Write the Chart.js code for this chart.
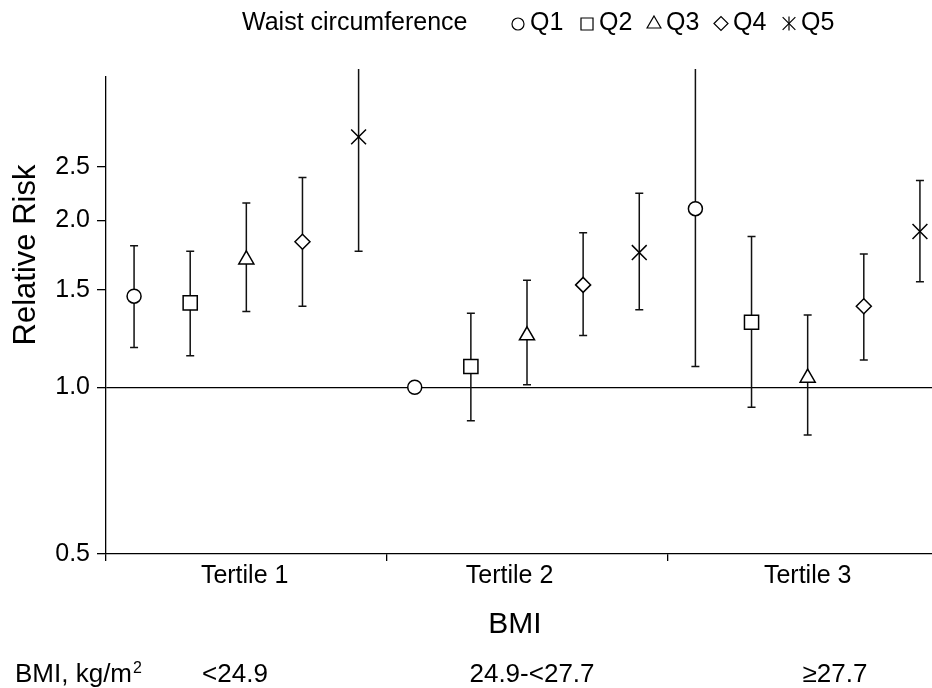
<!DOCTYPE html>
<html>
<head>
<meta charset="utf-8">
<title>Relative risk by BMI tertile and waist circumference</title>
<script src="https://cdn.jsdelivr.net/npm/chart.js@4.4.1/dist/chart.umd.min.js"></script>
<style>
  html, body { margin: 0; padding: 0; background: #fff; overflow: hidden; }
  canvas { display: block; }
</style>
</head>
<body>
<canvas id="rrChart" width="960" height="688"></canvas>
<script>
// BMI tertiles on the x axis, waist circumference quintiles inside each one
const tertiles = ['Tertile 1', 'Tertile 2', 'Tertile 3'];
const bmiRanges = ['<24.9', '24.9-<27.7', '\u226527.7'];
const quintiles = ['Q1', 'Q2', 'Q3', 'Q4', 'Q5'];

// relative risk per quintile, one value per tertile
const rrQ1 = [1.46, 1.00, 2.10];
const rrQ2 = [1.42, 1.09, 1.31];
const rrQ3 = [1.70, 1.24, 1.04];
const rrQ4 = [1.83, 1.53, 1.40];
const rrQ5 = [2.83, 1.75, 1.91];

// 95% CI (Q1 of tertile 2 is the reference group -> no interval)
const loQ1 = [1.18, null, 1.09];
const loQ2 = [1.14, 0.87, 0.92];
const loQ3 = [1.37, 1.01, 0.82];
const loQ4 = [1.40, 1.24, 1.12];
const loQ5 = [1.76, 1.38, 1.55];

const hiQ1 = [1.80, null, 4.03];
const hiQ2 = [1.76, 1.36, 1.87];
const hiQ3 = [2.15, 1.56, 1.35];
const hiQ4 = [2.39, 1.90, 1.74];
const hiQ5 = [4.54, 2.24, 2.36];

const yTicks = [0.5, 1.0, 1.5, 2.0, 2.5];

const rr = [rrQ1, rrQ2, rrQ3, rrQ4, rrQ5];
const lo = [loQ1, loQ2, loQ3, loQ4, loQ5];
const hi = [hiQ1, hiQ2, hiQ3, hiQ4, hiQ5];

// marker looks
const markers = ['circle', 'rect', 'triangle', 'rectRot', 'crossRot'];
const markerSize = [7, 10, 8.7, 7.5, 10.5];

const FONT = 'Liberation Sans, Arial, Helvetica, sans-serif';
const perGroup = quintiles.length;

const datasets = quintiles.map((q, qi) => ({
  label: q,
  data: tertiles.map((t, ti) => ({
    x: ti * perGroup + qi + 0.5,
    y: rr[qi][ti],
    lo: lo[qi][ti],
    hi: hi[qi][ti]
  })),
  pointStyle: markers[qi],
  pointRadius: markerSize[qi],
  pointHoverRadius: markerSize[qi],
  pointBackgroundColor: '#fff',
  pointBorderColor: '#000',
  pointBorderWidth: 1.5,
  showLine: false
}));

// vertical CI whiskers with small caps, drawn under the markers
const errorBars = {
  id: 'errorBars',
  beforeDatasetsDraw(chart) {
    const { ctx, chartArea, scales } = chart;
    const y = scales.y;
    ctx.save();
    ctx.beginPath();
    ctx.rect(chartArea.left, chartArea.top - 8, chartArea.right - chartArea.left, chartArea.bottom - chartArea.top + 8);
    ctx.clip();
    ctx.strokeStyle = '#111';
    ctx.lineWidth = 1.5;
    chart.data.datasets.forEach((ds, di) => {
      chart.getDatasetMeta(di).data.forEach((pt, i) => {
        const d = ds.data[i];
        if (d.lo == null || d.hi == null) return;
        const yl = y.getPixelForValue(d.lo);
        const yh = y.getPixelForValue(d.hi);
        ctx.beginPath();
        ctx.moveTo(pt.x, yl);
        ctx.lineTo(pt.x, yh);
        ctx.moveTo(pt.x - 4, yl);
        ctx.lineTo(pt.x + 4, yl);
        ctx.moveTo(pt.x - 4, yh);
        ctx.lineTo(pt.x + 4, yh);
        ctx.stroke();
      });
    });
    ctx.restore();
  }
};

// header key, axis titles and the BMI range row
const annotations = {
  id: 'annotations',
  afterDraw(chart) {
    const ctx = chart.ctx;
    ctx.save();
    ctx.fillStyle = '#000';
    ctx.textBaseline = 'alphabetic';

    // key across the top
    ctx.font = '25px ' + FONT;
    ctx.textAlign = 'left';
    ctx.fillText('Waist circumference', 242, 30);
    const keyX = [518, 587, 654, 721, 789];
    const keyR = [6, 8.5, 8, 7, 9];
    const keyY = [24, 24, 24, 23.5, 23.5];
    quintiles.forEach((q, qi) => {
      ctx.fillStyle = '#fff';
      ctx.strokeStyle = '#000';
      ctx.lineWidth = 1.2;
      Chart.helpers.drawPoint(ctx, { pointStyle: markers[qi], radius: keyR[qi], rotation: 0, borderWidth: 1.2 }, keyX[qi], keyY[qi]);
      if (markers[qi] === 'crossRot') {
        ctx.beginPath();
        ctx.moveTo(keyX[qi], keyY[qi] - 7);
        ctx.lineTo(keyX[qi], keyY[qi] + 7);
        ctx.stroke();
      }
      ctx.fillStyle = '#000';
      ctx.fillText(q, keyX[qi] + 12, 30);
    });

    // y title
    ctx.font = '31px ' + FONT;
    ctx.textAlign = 'center';
    ctx.save();
    ctx.translate(35, 255);
    ctx.rotate(-Math.PI / 2);
    ctx.fillText('Relative Risk', 0, 0);
    ctx.restore();

    // x title
    ctx.font = '30px ' + FONT;
    ctx.fillText('BMI', 515, 633);

    // BMI ranges row
    ctx.font = '26px ' + FONT;
    ctx.textAlign = 'left';
    ctx.fillText('BMI, kg/m', 15, 682);
    const w = ctx.measureText('BMI, kg/m').width;
    ctx.font = '16px ' + FONT;
    ctx.fillText('2', 15 + w + 1, 673);
    ctx.font = '26px ' + FONT;
    ctx.textAlign = 'center';
    const rangeX = [235, 532, 835];
    bmiRanges.forEach((r, i) => ctx.fillText(r, rangeX[i], 682));
    ctx.restore();
  }
};

// x ticks: group borders carry a tick mark, label ticks only carry text
const xBorders = [0, 5, 10, 15];
const xLabelAt = [2.47, 7.19, 12.5];
const isBorder = v => xBorders.includes(v);

new Chart(document.getElementById('rrChart'), {
  type: 'scatter',
  data: { datasets },
  plugins: [errorBars, annotations],
  options: {
    responsive: false,
    animation: false,
    devicePixelRatio: 1,
    layout: { padding: { top: 77, right: 9, left: 0, bottom: 0 } },
    plugins: {
      legend: { display: false },
      tooltip: { enabled: false }
    },
    scales: {
      x: {
        type: 'linear',
        min: 0,
        max: 15,
        afterFit: s => { s.height = 134; },
        afterBuildTicks: s => {
          s.ticks = [...xBorders, ...xLabelAt].sort((a, b) => a - b).map(v => ({ value: v }));
        },
        border: { color: '#000', width: 1.3 },
        grid: {
          drawOnChartArea: false,
          tickLength: 7,
          color: c => (c.tick && isBorder(c.tick.value)) ? '#000' : 'rgba(0,0,0,0)',
          tickColor: c => (c.tick && isBorder(c.tick.value)) ? '#000' : 'rgba(0,0,0,0)',
          lineWidth: 1.3
        },
        ticks: {
          autoSkip: false,
          maxRotation: 0,
          padding: 0,
          color: '#000',
          font: { family: FONT, size: 25 },
          callback: v => {
            const i = xLabelAt.indexOf(v);
            return i >= 0 ? tertiles[i] : '';
          }
        }
      },
      y: {
        type: 'logarithmic',
        min: 0.5,
        max: 3.63,
        afterFit: s => { s.width = 106; },
        afterBuildTicks: s => { s.ticks = yTicks.map(v => ({ value: v })); },
        border: { color: '#000', width: 1.3 },
        grid: {
          drawOnChartArea: true,
          tickLength: 9,
          color: c => (c.tick && c.tick.value === 1) ? '#000' : 'rgba(0,0,0,0)',
          tickColor: '#000',
          lineWidth: 1.3
        },
        ticks: {
          autoSkip: false,
          padding: 7,
          color: '#000',
          font: { family: FONT, size: 25 },
          callback: v => Number(v).toFixed(1)
        }
      }
    }
  }
});
</script>
</body>
</html>
